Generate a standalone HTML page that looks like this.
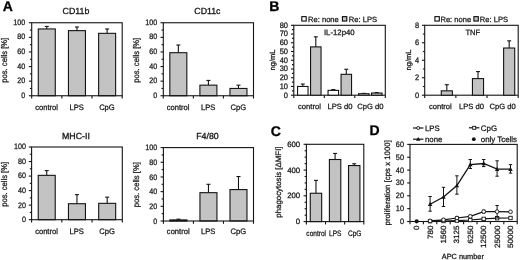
<!DOCTYPE html>
<html><head><meta charset="utf-8"><title>Figure</title>
<style>
html,body{margin:0;padding:0;background:#fff;}
body{width:520px;height:260px;overflow:hidden;}
svg{display:block;text-rendering:geometricPrecision;filter:blur(0.35px);font-family:'Liberation Sans', 'DejaVu Sans', sans-serif;}
</style></head><body>
<svg width="520" height="260" viewBox="0 0 520 260">
<rect x="0" y="0" width="520" height="260" fill="#fff"/>
<text transform="translate(2.80 11.20)" font-size="14" text-anchor="start" font-weight="bold" fill="#000" stroke="#000" stroke-width="0.3">A</text>
<line x1="46.78" y1="28.95" x2="46.78" y2="26.40" stroke="#141414" stroke-width="1.1"/>
<line x1="44.78" y1="26.40" x2="48.78" y2="26.40" stroke="#141414" stroke-width="1.1"/>
<rect x="38.28" y="28.95" width="17.00" height="66.80" fill="#c3c3c3" stroke="#141414" stroke-width="1.1"/>
<line x1="76.95" y1="30.63" x2="76.95" y2="26.98" stroke="#141414" stroke-width="1.1"/>
<line x1="74.95" y1="26.98" x2="78.95" y2="26.98" stroke="#141414" stroke-width="1.1"/>
<rect x="68.45" y="30.63" width="17.00" height="65.12" fill="#c3c3c3" stroke="#141414" stroke-width="1.1"/>
<line x1="107.12" y1="33.34" x2="107.12" y2="28.95" stroke="#141414" stroke-width="1.1"/>
<line x1="105.12" y1="28.95" x2="109.12" y2="28.95" stroke="#141414" stroke-width="1.1"/>
<rect x="98.62" y="33.34" width="17.00" height="62.41" fill="#c3c3c3" stroke="#141414" stroke-width="1.1"/>
<rect x="31.70" y="22.75" width="90.50" height="73.00" fill="none" stroke="#141414" stroke-width="1.1"/>
<line x1="28.90" y1="95.75" x2="31.70" y2="95.75" stroke="#141414" stroke-width="1.1"/>
<text transform="translate(25.30 97.85) scale(0.91 1)" font-size="7.9" text-anchor="end" font-weight="normal" fill="#141414" stroke="#141414" stroke-width="0.25">0</text>
<line x1="28.90" y1="81.15" x2="31.70" y2="81.15" stroke="#141414" stroke-width="1.1"/>
<text transform="translate(25.30 83.25) scale(0.91 1)" font-size="7.9" text-anchor="end" font-weight="normal" fill="#141414" stroke="#141414" stroke-width="0.25">20</text>
<line x1="28.90" y1="66.55" x2="31.70" y2="66.55" stroke="#141414" stroke-width="1.1"/>
<text transform="translate(25.30 68.65) scale(0.91 1)" font-size="7.9" text-anchor="end" font-weight="normal" fill="#141414" stroke="#141414" stroke-width="0.25">40</text>
<line x1="28.90" y1="51.95" x2="31.70" y2="51.95" stroke="#141414" stroke-width="1.1"/>
<text transform="translate(25.30 54.05) scale(0.91 1)" font-size="7.9" text-anchor="end" font-weight="normal" fill="#141414" stroke="#141414" stroke-width="0.25">60</text>
<line x1="28.90" y1="37.35" x2="31.70" y2="37.35" stroke="#141414" stroke-width="1.1"/>
<text transform="translate(25.30 39.45) scale(0.91 1)" font-size="7.9" text-anchor="end" font-weight="normal" fill="#141414" stroke="#141414" stroke-width="0.25">80</text>
<line x1="28.90" y1="22.75" x2="31.70" y2="22.75" stroke="#141414" stroke-width="1.1"/>
<text transform="translate(25.30 24.85) scale(0.91 1)" font-size="7.9" text-anchor="end" font-weight="normal" fill="#141414" stroke="#141414" stroke-width="0.25">100</text>
<line x1="29.90" y1="88.45" x2="31.70" y2="88.45" stroke="#141414" stroke-width="1.1"/>
<line x1="29.90" y1="73.85" x2="31.70" y2="73.85" stroke="#141414" stroke-width="1.1"/>
<line x1="29.90" y1="59.25" x2="31.70" y2="59.25" stroke="#141414" stroke-width="1.1"/>
<line x1="29.90" y1="44.65" x2="31.70" y2="44.65" stroke="#141414" stroke-width="1.1"/>
<line x1="29.90" y1="30.05" x2="31.70" y2="30.05" stroke="#141414" stroke-width="1.1"/>
<line x1="31.70" y1="95.75" x2="31.70" y2="98.55" stroke="#141414" stroke-width="1.1"/>
<line x1="61.87" y1="95.75" x2="61.87" y2="98.55" stroke="#141414" stroke-width="1.1"/>
<line x1="92.03" y1="95.75" x2="92.03" y2="98.55" stroke="#141414" stroke-width="1.1"/>
<line x1="122.20" y1="95.75" x2="122.20" y2="98.55" stroke="#141414" stroke-width="1.1"/>
<text transform="translate(75.95 14.20)" font-size="8.8" text-anchor="middle" font-weight="normal" fill="#141414" stroke="#141414" stroke-width="0.3">CD11b</text>
<text transform="translate(46.58 110.00) scale(0.96 1)" font-size="7.9" text-anchor="middle" font-weight="normal" fill="#141414" stroke="#141414" stroke-width="0.25">control</text>
<text transform="translate(76.75 110.00) scale(0.96 1)" font-size="7.9" text-anchor="middle" font-weight="normal" fill="#141414" stroke="#141414" stroke-width="0.25">LPS</text>
<text transform="translate(106.92 110.00) scale(0.96 1)" font-size="7.9" text-anchor="middle" font-weight="normal" fill="#141414" stroke="#141414" stroke-width="0.25">CpG</text>
<text transform="translate(7.40 60.25) rotate(-90) scale(0.92 1)" font-size="8.3" text-anchor="middle" font-weight="normal" fill="#141414" stroke="#141414" stroke-width="0.25">pos. cells [%]</text>
<line x1="178.33" y1="52.68" x2="178.33" y2="45.02" stroke="#141414" stroke-width="1.1"/>
<line x1="176.33" y1="45.02" x2="180.33" y2="45.02" stroke="#141414" stroke-width="1.1"/>
<rect x="169.83" y="52.68" width="17.00" height="43.07" fill="#c3c3c3" stroke="#141414" stroke-width="1.1"/>
<line x1="208.40" y1="85.16" x2="208.40" y2="80.42" stroke="#141414" stroke-width="1.1"/>
<line x1="206.40" y1="80.42" x2="210.40" y2="80.42" stroke="#141414" stroke-width="1.1"/>
<rect x="199.90" y="85.16" width="17.00" height="10.59" fill="#c3c3c3" stroke="#141414" stroke-width="1.1"/>
<line x1="238.47" y1="88.45" x2="238.47" y2="85.16" stroke="#141414" stroke-width="1.1"/>
<line x1="236.47" y1="85.16" x2="240.47" y2="85.16" stroke="#141414" stroke-width="1.1"/>
<rect x="229.97" y="88.45" width="17.00" height="7.30" fill="#c3c3c3" stroke="#141414" stroke-width="1.1"/>
<rect x="163.30" y="22.75" width="90.20" height="73.00" fill="none" stroke="#141414" stroke-width="1.1"/>
<line x1="160.50" y1="95.75" x2="163.30" y2="95.75" stroke="#141414" stroke-width="1.1"/>
<text transform="translate(157.20 97.85) scale(0.91 1)" font-size="7.9" text-anchor="end" font-weight="normal" fill="#141414" stroke="#141414" stroke-width="0.25">0</text>
<line x1="160.50" y1="81.15" x2="163.30" y2="81.15" stroke="#141414" stroke-width="1.1"/>
<text transform="translate(157.20 83.25) scale(0.91 1)" font-size="7.9" text-anchor="end" font-weight="normal" fill="#141414" stroke="#141414" stroke-width="0.25">20</text>
<line x1="160.50" y1="66.55" x2="163.30" y2="66.55" stroke="#141414" stroke-width="1.1"/>
<text transform="translate(157.20 68.65) scale(0.91 1)" font-size="7.9" text-anchor="end" font-weight="normal" fill="#141414" stroke="#141414" stroke-width="0.25">40</text>
<line x1="160.50" y1="51.95" x2="163.30" y2="51.95" stroke="#141414" stroke-width="1.1"/>
<text transform="translate(157.20 54.05) scale(0.91 1)" font-size="7.9" text-anchor="end" font-weight="normal" fill="#141414" stroke="#141414" stroke-width="0.25">60</text>
<line x1="160.50" y1="37.35" x2="163.30" y2="37.35" stroke="#141414" stroke-width="1.1"/>
<text transform="translate(157.20 39.45) scale(0.91 1)" font-size="7.9" text-anchor="end" font-weight="normal" fill="#141414" stroke="#141414" stroke-width="0.25">80</text>
<line x1="160.50" y1="22.75" x2="163.30" y2="22.75" stroke="#141414" stroke-width="1.1"/>
<text transform="translate(157.20 24.85) scale(0.91 1)" font-size="7.9" text-anchor="end" font-weight="normal" fill="#141414" stroke="#141414" stroke-width="0.25">100</text>
<line x1="161.50" y1="88.45" x2="163.30" y2="88.45" stroke="#141414" stroke-width="1.1"/>
<line x1="161.50" y1="73.85" x2="163.30" y2="73.85" stroke="#141414" stroke-width="1.1"/>
<line x1="161.50" y1="59.25" x2="163.30" y2="59.25" stroke="#141414" stroke-width="1.1"/>
<line x1="161.50" y1="44.65" x2="163.30" y2="44.65" stroke="#141414" stroke-width="1.1"/>
<line x1="161.50" y1="30.05" x2="163.30" y2="30.05" stroke="#141414" stroke-width="1.1"/>
<line x1="163.30" y1="95.75" x2="163.30" y2="98.55" stroke="#141414" stroke-width="1.1"/>
<line x1="193.37" y1="95.75" x2="193.37" y2="98.55" stroke="#141414" stroke-width="1.1"/>
<line x1="223.43" y1="95.75" x2="223.43" y2="98.55" stroke="#141414" stroke-width="1.1"/>
<line x1="253.50" y1="95.75" x2="253.50" y2="98.55" stroke="#141414" stroke-width="1.1"/>
<text transform="translate(207.40 14.20)" font-size="8.8" text-anchor="middle" font-weight="normal" fill="#141414" stroke="#141414" stroke-width="0.3">CD11c</text>
<text transform="translate(178.13 110.00) scale(0.96 1)" font-size="7.9" text-anchor="middle" font-weight="normal" fill="#141414" stroke="#141414" stroke-width="0.25">control</text>
<text transform="translate(208.20 110.00) scale(0.96 1)" font-size="7.9" text-anchor="middle" font-weight="normal" fill="#141414" stroke="#141414" stroke-width="0.25">LPS</text>
<text transform="translate(238.27 110.00) scale(0.96 1)" font-size="7.9" text-anchor="middle" font-weight="normal" fill="#141414" stroke="#141414" stroke-width="0.25">CpG</text>
<text transform="translate(138.90 60.25) rotate(-90) scale(0.92 1)" font-size="8.3" text-anchor="middle" font-weight="normal" fill="#141414" stroke="#141414" stroke-width="0.25">pos. cells [%]</text>
<line x1="46.72" y1="175.35" x2="46.72" y2="170.63" stroke="#141414" stroke-width="1.1"/>
<line x1="44.72" y1="170.63" x2="48.72" y2="170.63" stroke="#141414" stroke-width="1.1"/>
<rect x="38.22" y="175.35" width="17.00" height="44.35" fill="#c3c3c3" stroke="#141414" stroke-width="1.1"/>
<line x1="76.95" y1="203.71" x2="76.95" y2="194.62" stroke="#141414" stroke-width="1.1"/>
<line x1="74.95" y1="194.62" x2="78.95" y2="194.62" stroke="#141414" stroke-width="1.1"/>
<rect x="68.45" y="203.71" width="17.00" height="15.99" fill="#c3c3c3" stroke="#141414" stroke-width="1.1"/>
<line x1="107.18" y1="203.34" x2="107.18" y2="197.16" stroke="#141414" stroke-width="1.1"/>
<line x1="105.18" y1="197.16" x2="109.18" y2="197.16" stroke="#141414" stroke-width="1.1"/>
<rect x="98.68" y="203.34" width="17.00" height="16.36" fill="#c3c3c3" stroke="#141414" stroke-width="1.1"/>
<rect x="31.60" y="147.00" width="90.70" height="72.70" fill="none" stroke="#141414" stroke-width="1.1"/>
<line x1="28.80" y1="219.70" x2="31.60" y2="219.70" stroke="#141414" stroke-width="1.1"/>
<text transform="translate(25.90 222.10) scale(0.91 1)" font-size="7.9" text-anchor="end" font-weight="normal" fill="#141414" stroke="#141414" stroke-width="0.25">0</text>
<line x1="28.80" y1="205.16" x2="31.60" y2="205.16" stroke="#141414" stroke-width="1.1"/>
<text transform="translate(25.90 207.56) scale(0.91 1)" font-size="7.9" text-anchor="end" font-weight="normal" fill="#141414" stroke="#141414" stroke-width="0.25">20</text>
<line x1="28.80" y1="190.62" x2="31.60" y2="190.62" stroke="#141414" stroke-width="1.1"/>
<text transform="translate(25.90 193.02) scale(0.91 1)" font-size="7.9" text-anchor="end" font-weight="normal" fill="#141414" stroke="#141414" stroke-width="0.25">40</text>
<line x1="28.80" y1="176.08" x2="31.60" y2="176.08" stroke="#141414" stroke-width="1.1"/>
<text transform="translate(25.90 178.48) scale(0.91 1)" font-size="7.9" text-anchor="end" font-weight="normal" fill="#141414" stroke="#141414" stroke-width="0.25">60</text>
<line x1="28.80" y1="161.54" x2="31.60" y2="161.54" stroke="#141414" stroke-width="1.1"/>
<text transform="translate(25.90 163.94) scale(0.91 1)" font-size="7.9" text-anchor="end" font-weight="normal" fill="#141414" stroke="#141414" stroke-width="0.25">80</text>
<line x1="28.80" y1="147.00" x2="31.60" y2="147.00" stroke="#141414" stroke-width="1.1"/>
<text transform="translate(25.90 149.40) scale(0.91 1)" font-size="7.9" text-anchor="end" font-weight="normal" fill="#141414" stroke="#141414" stroke-width="0.25">100</text>
<line x1="29.80" y1="212.43" x2="31.60" y2="212.43" stroke="#141414" stroke-width="1.1"/>
<line x1="29.80" y1="197.89" x2="31.60" y2="197.89" stroke="#141414" stroke-width="1.1"/>
<line x1="29.80" y1="183.35" x2="31.60" y2="183.35" stroke="#141414" stroke-width="1.1"/>
<line x1="29.80" y1="168.81" x2="31.60" y2="168.81" stroke="#141414" stroke-width="1.1"/>
<line x1="29.80" y1="154.27" x2="31.60" y2="154.27" stroke="#141414" stroke-width="1.1"/>
<line x1="31.60" y1="219.70" x2="31.60" y2="222.50" stroke="#141414" stroke-width="1.1"/>
<line x1="61.83" y1="219.70" x2="61.83" y2="222.50" stroke="#141414" stroke-width="1.1"/>
<line x1="92.07" y1="219.70" x2="92.07" y2="222.50" stroke="#141414" stroke-width="1.1"/>
<line x1="122.30" y1="219.70" x2="122.30" y2="222.50" stroke="#141414" stroke-width="1.1"/>
<text transform="translate(75.95 138.90)" font-size="8.8" text-anchor="middle" font-weight="normal" fill="#141414" stroke="#141414" stroke-width="0.3">MHC-II</text>
<text transform="translate(46.52 233.60) scale(0.96 1)" font-size="7.9" text-anchor="middle" font-weight="normal" fill="#141414" stroke="#141414" stroke-width="0.25">control</text>
<text transform="translate(76.75 233.60) scale(0.96 1)" font-size="7.9" text-anchor="middle" font-weight="normal" fill="#141414" stroke="#141414" stroke-width="0.25">LPS</text>
<text transform="translate(106.98 233.60) scale(0.96 1)" font-size="7.9" text-anchor="middle" font-weight="normal" fill="#141414" stroke="#141414" stroke-width="0.25">CpG</text>
<text transform="translate(7.30 184.35) rotate(-90) scale(0.92 1)" font-size="8.3" text-anchor="middle" font-weight="normal" fill="#141414" stroke="#141414" stroke-width="0.25">pos. cells [%]</text>
<line x1="178.42" y1="219.90" x2="178.42" y2="219.16" stroke="#141414" stroke-width="1.1"/>
<line x1="176.42" y1="219.16" x2="180.42" y2="219.16" stroke="#141414" stroke-width="1.1"/>
<rect x="169.92" y="219.90" width="17.00" height="1.10" fill="#c3c3c3" stroke="#141414" stroke-width="1.1"/>
<line x1="208.45" y1="192.67" x2="208.45" y2="184.30" stroke="#141414" stroke-width="1.1"/>
<line x1="206.45" y1="184.30" x2="210.45" y2="184.30" stroke="#141414" stroke-width="1.1"/>
<rect x="199.95" y="192.67" width="17.00" height="28.33" fill="#c3c3c3" stroke="#141414" stroke-width="1.1"/>
<line x1="238.48" y1="189.58" x2="238.48" y2="176.52" stroke="#141414" stroke-width="1.1"/>
<line x1="236.48" y1="176.52" x2="240.48" y2="176.52" stroke="#141414" stroke-width="1.1"/>
<rect x="229.98" y="189.58" width="17.00" height="31.42" fill="#c3c3c3" stroke="#141414" stroke-width="1.1"/>
<rect x="163.40" y="147.60" width="90.10" height="73.40" fill="none" stroke="#141414" stroke-width="1.1"/>
<line x1="160.60" y1="221.00" x2="163.40" y2="221.00" stroke="#141414" stroke-width="1.1"/>
<text transform="translate(157.20 223.60) scale(0.91 1)" font-size="7.9" text-anchor="end" font-weight="normal" fill="#141414" stroke="#141414" stroke-width="0.25">0</text>
<line x1="160.60" y1="206.32" x2="163.40" y2="206.32" stroke="#141414" stroke-width="1.1"/>
<text transform="translate(157.20 208.92) scale(0.91 1)" font-size="7.9" text-anchor="end" font-weight="normal" fill="#141414" stroke="#141414" stroke-width="0.25">20</text>
<line x1="160.60" y1="191.64" x2="163.40" y2="191.64" stroke="#141414" stroke-width="1.1"/>
<text transform="translate(157.20 194.24) scale(0.91 1)" font-size="7.9" text-anchor="end" font-weight="normal" fill="#141414" stroke="#141414" stroke-width="0.25">40</text>
<line x1="160.60" y1="176.96" x2="163.40" y2="176.96" stroke="#141414" stroke-width="1.1"/>
<text transform="translate(157.20 179.56) scale(0.91 1)" font-size="7.9" text-anchor="end" font-weight="normal" fill="#141414" stroke="#141414" stroke-width="0.25">60</text>
<line x1="160.60" y1="162.28" x2="163.40" y2="162.28" stroke="#141414" stroke-width="1.1"/>
<text transform="translate(157.20 164.88) scale(0.91 1)" font-size="7.9" text-anchor="end" font-weight="normal" fill="#141414" stroke="#141414" stroke-width="0.25">80</text>
<line x1="160.60" y1="147.60" x2="163.40" y2="147.60" stroke="#141414" stroke-width="1.1"/>
<text transform="translate(157.20 150.20) scale(0.91 1)" font-size="7.9" text-anchor="end" font-weight="normal" fill="#141414" stroke="#141414" stroke-width="0.25">100</text>
<line x1="161.60" y1="213.66" x2="163.40" y2="213.66" stroke="#141414" stroke-width="1.1"/>
<line x1="161.60" y1="198.98" x2="163.40" y2="198.98" stroke="#141414" stroke-width="1.1"/>
<line x1="161.60" y1="184.30" x2="163.40" y2="184.30" stroke="#141414" stroke-width="1.1"/>
<line x1="161.60" y1="169.62" x2="163.40" y2="169.62" stroke="#141414" stroke-width="1.1"/>
<line x1="161.60" y1="154.94" x2="163.40" y2="154.94" stroke="#141414" stroke-width="1.1"/>
<line x1="163.40" y1="221.00" x2="163.40" y2="223.80" stroke="#141414" stroke-width="1.1"/>
<line x1="193.43" y1="221.00" x2="193.43" y2="223.80" stroke="#141414" stroke-width="1.1"/>
<line x1="223.47" y1="221.00" x2="223.47" y2="223.80" stroke="#141414" stroke-width="1.1"/>
<line x1="253.50" y1="221.00" x2="253.50" y2="223.80" stroke="#141414" stroke-width="1.1"/>
<text transform="translate(207.45 138.90)" font-size="8.8" text-anchor="middle" font-weight="normal" fill="#141414" stroke="#141414" stroke-width="0.3">F4/80</text>
<text transform="translate(178.22 234.10) scale(0.96 1)" font-size="7.9" text-anchor="middle" font-weight="normal" fill="#141414" stroke="#141414" stroke-width="0.25">control</text>
<text transform="translate(208.25 234.10) scale(0.96 1)" font-size="7.9" text-anchor="middle" font-weight="normal" fill="#141414" stroke="#141414" stroke-width="0.25">LPS</text>
<text transform="translate(238.28 234.10) scale(0.96 1)" font-size="7.9" text-anchor="middle" font-weight="normal" fill="#141414" stroke="#141414" stroke-width="0.25">CpG</text>
<text transform="translate(139.00 184.70) rotate(-90) scale(0.92 1)" font-size="8.3" text-anchor="middle" font-weight="normal" fill="#141414" stroke="#141414" stroke-width="0.25">pos. cells [%]</text>
<text transform="translate(269.30 10.80)" font-size="14" text-anchor="start" font-weight="bold" fill="#000" stroke="#000" stroke-width="0.3">B</text>
<rect x="293.80" y="25.30" width="91.50" height="69.90" fill="none" stroke="#141414" stroke-width="1.1"/>
<line x1="291.00" y1="95.20" x2="293.80" y2="95.20" stroke="#141414" stroke-width="1.1"/>
<text transform="translate(288.00 97.60) scale(0.95 1)" font-size="7.9" text-anchor="end" font-weight="normal" fill="#141414" stroke="#141414" stroke-width="0.25">0</text>
<line x1="291.00" y1="86.46" x2="293.80" y2="86.46" stroke="#141414" stroke-width="1.1"/>
<text transform="translate(288.00 88.86) scale(0.95 1)" font-size="7.9" text-anchor="end" font-weight="normal" fill="#141414" stroke="#141414" stroke-width="0.25">10</text>
<line x1="291.00" y1="77.72" x2="293.80" y2="77.72" stroke="#141414" stroke-width="1.1"/>
<text transform="translate(288.00 80.12) scale(0.95 1)" font-size="7.9" text-anchor="end" font-weight="normal" fill="#141414" stroke="#141414" stroke-width="0.25">20</text>
<line x1="291.00" y1="68.99" x2="293.80" y2="68.99" stroke="#141414" stroke-width="1.1"/>
<text transform="translate(288.00 71.39) scale(0.95 1)" font-size="7.9" text-anchor="end" font-weight="normal" fill="#141414" stroke="#141414" stroke-width="0.25">30</text>
<line x1="291.00" y1="60.25" x2="293.80" y2="60.25" stroke="#141414" stroke-width="1.1"/>
<text transform="translate(288.00 62.65) scale(0.95 1)" font-size="7.9" text-anchor="end" font-weight="normal" fill="#141414" stroke="#141414" stroke-width="0.25">40</text>
<line x1="291.00" y1="51.51" x2="293.80" y2="51.51" stroke="#141414" stroke-width="1.1"/>
<text transform="translate(288.00 53.91) scale(0.95 1)" font-size="7.9" text-anchor="end" font-weight="normal" fill="#141414" stroke="#141414" stroke-width="0.25">50</text>
<line x1="291.00" y1="42.77" x2="293.80" y2="42.77" stroke="#141414" stroke-width="1.1"/>
<text transform="translate(288.00 45.17) scale(0.95 1)" font-size="7.9" text-anchor="end" font-weight="normal" fill="#141414" stroke="#141414" stroke-width="0.25">60</text>
<line x1="291.00" y1="34.04" x2="293.80" y2="34.04" stroke="#141414" stroke-width="1.1"/>
<text transform="translate(288.00 36.44) scale(0.95 1)" font-size="7.9" text-anchor="end" font-weight="normal" fill="#141414" stroke="#141414" stroke-width="0.25">70</text>
<line x1="291.00" y1="25.30" x2="293.80" y2="25.30" stroke="#141414" stroke-width="1.1"/>
<text transform="translate(288.00 27.70) scale(0.95 1)" font-size="7.9" text-anchor="end" font-weight="normal" fill="#141414" stroke="#141414" stroke-width="0.25">80</text>
<line x1="292.00" y1="90.83" x2="293.80" y2="90.83" stroke="#141414" stroke-width="1.1"/>
<line x1="292.00" y1="82.09" x2="293.80" y2="82.09" stroke="#141414" stroke-width="1.1"/>
<line x1="292.00" y1="73.36" x2="293.80" y2="73.36" stroke="#141414" stroke-width="1.1"/>
<line x1="292.00" y1="64.62" x2="293.80" y2="64.62" stroke="#141414" stroke-width="1.1"/>
<line x1="292.00" y1="55.88" x2="293.80" y2="55.88" stroke="#141414" stroke-width="1.1"/>
<line x1="292.00" y1="47.14" x2="293.80" y2="47.14" stroke="#141414" stroke-width="1.1"/>
<line x1="292.00" y1="38.41" x2="293.80" y2="38.41" stroke="#141414" stroke-width="1.1"/>
<line x1="292.00" y1="29.67" x2="293.80" y2="29.67" stroke="#141414" stroke-width="1.1"/>
<line x1="293.80" y1="95.20" x2="293.80" y2="98.00" stroke="#141414" stroke-width="1.1"/>
<line x1="324.30" y1="95.20" x2="324.30" y2="98.00" stroke="#141414" stroke-width="1.1"/>
<line x1="354.80" y1="95.20" x2="354.80" y2="98.00" stroke="#141414" stroke-width="1.1"/>
<line x1="385.30" y1="95.20" x2="385.30" y2="98.00" stroke="#141414" stroke-width="1.1"/>
<line x1="302.80" y1="86.46" x2="302.80" y2="84.02" stroke="#141414" stroke-width="1.1"/>
<line x1="300.80" y1="84.02" x2="304.80" y2="84.02" stroke="#141414" stroke-width="1.1"/>
<rect x="297.55" y="86.46" width="10.50" height="8.74" fill="#fff" stroke="#141414" stroke-width="1.1"/>
<line x1="315.80" y1="46.88" x2="315.80" y2="36.83" stroke="#141414" stroke-width="1.1"/>
<line x1="313.80" y1="36.83" x2="317.80" y2="36.83" stroke="#141414" stroke-width="1.1"/>
<rect x="310.55" y="46.88" width="10.50" height="48.32" fill="#c3c3c3" stroke="#141414" stroke-width="1.1"/>
<text transform="translate(309.45 108.80)" font-size="7.6" text-anchor="middle" font-weight="normal" fill="#141414" stroke="#141414" stroke-width="0.25">control</text>
<line x1="333.30" y1="90.39" x2="333.30" y2="89.52" stroke="#141414" stroke-width="1.1"/>
<line x1="331.30" y1="89.52" x2="335.30" y2="89.52" stroke="#141414" stroke-width="1.1"/>
<rect x="328.05" y="90.39" width="10.50" height="4.81" fill="#fff" stroke="#141414" stroke-width="1.1"/>
<line x1="346.30" y1="74.32" x2="346.30" y2="69.25" stroke="#141414" stroke-width="1.1"/>
<line x1="344.30" y1="69.25" x2="348.30" y2="69.25" stroke="#141414" stroke-width="1.1"/>
<rect x="341.05" y="74.32" width="10.50" height="20.88" fill="#c3c3c3" stroke="#141414" stroke-width="1.1"/>
<text transform="translate(339.95 108.80)" font-size="7.6" text-anchor="middle" font-weight="normal" fill="#141414" stroke="#141414" stroke-width="0.25">LPS d0</text>
<line x1="363.80" y1="93.71" x2="363.80" y2="93.37" stroke="#141414" stroke-width="1.1"/>
<line x1="361.80" y1="93.37" x2="365.80" y2="93.37" stroke="#141414" stroke-width="1.1"/>
<rect x="358.55" y="93.71" width="10.50" height="1.49" fill="#fff" stroke="#141414" stroke-width="1.1"/>
<line x1="376.80" y1="93.02" x2="376.80" y2="92.58" stroke="#141414" stroke-width="1.1"/>
<line x1="374.80" y1="92.58" x2="378.80" y2="92.58" stroke="#141414" stroke-width="1.1"/>
<rect x="371.55" y="93.02" width="10.50" height="2.18" fill="#c3c3c3" stroke="#141414" stroke-width="1.1"/>
<text transform="translate(370.45 108.80)" font-size="7.6" text-anchor="middle" font-weight="normal" fill="#141414" stroke="#141414" stroke-width="0.25">CpG d0</text>
<text transform="translate(339.30 34.70)" font-size="7.8" text-anchor="middle" font-weight="normal" fill="#141414" stroke="#141414" stroke-width="0.25">IL-12p40</text>
<text transform="translate(274.60 60.00) rotate(-90)" font-size="7.5" text-anchor="middle" font-weight="normal" fill="#141414" stroke="#141414" stroke-width="0.25">ng/mL</text>
<rect x="301.80" y="16.65" width="4.40" height="4.40" fill="#fff" stroke="#000" stroke-width="1.05"/>
<text transform="translate(308.00 21.55)" font-size="7.6" text-anchor="start" font-weight="normal" fill="#141414" stroke="#141414" stroke-width="0.25">Re: none</text>
<rect x="342.40" y="16.65" width="4.40" height="4.40" fill="#c3c3c3" stroke="#000" stroke-width="1.05"/>
<text transform="translate(348.80 21.55)" font-size="7.6" text-anchor="start" font-weight="normal" fill="#141414" stroke="#141414" stroke-width="0.25">Re: LPS</text>
<rect x="424.70" y="25.30" width="93.50" height="69.90" fill="none" stroke="#141414" stroke-width="1.1"/>
<line x1="421.90" y1="95.20" x2="424.70" y2="95.20" stroke="#141414" stroke-width="1.1"/>
<text transform="translate(419.10 97.60) scale(0.95 1)" font-size="7.9" text-anchor="end" font-weight="normal" fill="#141414" stroke="#141414" stroke-width="0.25">0</text>
<line x1="421.90" y1="77.72" x2="424.70" y2="77.72" stroke="#141414" stroke-width="1.1"/>
<text transform="translate(419.10 80.12) scale(0.95 1)" font-size="7.9" text-anchor="end" font-weight="normal" fill="#141414" stroke="#141414" stroke-width="0.25">2</text>
<line x1="421.90" y1="60.25" x2="424.70" y2="60.25" stroke="#141414" stroke-width="1.1"/>
<text transform="translate(419.10 62.65) scale(0.95 1)" font-size="7.9" text-anchor="end" font-weight="normal" fill="#141414" stroke="#141414" stroke-width="0.25">4</text>
<line x1="421.90" y1="42.77" x2="424.70" y2="42.77" stroke="#141414" stroke-width="1.1"/>
<text transform="translate(419.10 45.17) scale(0.95 1)" font-size="7.9" text-anchor="end" font-weight="normal" fill="#141414" stroke="#141414" stroke-width="0.25">6</text>
<line x1="421.90" y1="25.30" x2="424.70" y2="25.30" stroke="#141414" stroke-width="1.1"/>
<text transform="translate(419.10 27.70) scale(0.95 1)" font-size="7.9" text-anchor="end" font-weight="normal" fill="#141414" stroke="#141414" stroke-width="0.25">8</text>
<line x1="422.90" y1="86.46" x2="424.70" y2="86.46" stroke="#141414" stroke-width="1.1"/>
<line x1="422.90" y1="68.99" x2="424.70" y2="68.99" stroke="#141414" stroke-width="1.1"/>
<line x1="422.90" y1="51.51" x2="424.70" y2="51.51" stroke="#141414" stroke-width="1.1"/>
<line x1="422.90" y1="34.04" x2="424.70" y2="34.04" stroke="#141414" stroke-width="1.1"/>
<line x1="424.70" y1="95.20" x2="424.70" y2="98.00" stroke="#141414" stroke-width="1.1"/>
<line x1="455.87" y1="95.20" x2="455.87" y2="98.00" stroke="#141414" stroke-width="1.1"/>
<line x1="487.03" y1="95.20" x2="487.03" y2="98.00" stroke="#141414" stroke-width="1.1"/>
<line x1="518.20" y1="95.20" x2="518.20" y2="98.00" stroke="#141414" stroke-width="1.1"/>
<line x1="446.83" y1="90.83" x2="446.83" y2="84.72" stroke="#141414" stroke-width="1.1"/>
<line x1="444.83" y1="84.72" x2="448.83" y2="84.72" stroke="#141414" stroke-width="1.1"/>
<rect x="441.28" y="90.83" width="11.10" height="4.37" fill="#c3c3c3" stroke="#141414" stroke-width="1.1"/>
<text transform="translate(440.28 109.00)" font-size="7.6" text-anchor="middle" font-weight="normal" fill="#141414" stroke="#141414" stroke-width="0.25">control</text>
<line x1="478.00" y1="78.60" x2="478.00" y2="71.61" stroke="#141414" stroke-width="1.1"/>
<line x1="476.00" y1="71.61" x2="480.00" y2="71.61" stroke="#141414" stroke-width="1.1"/>
<rect x="472.45" y="78.60" width="11.10" height="16.60" fill="#c3c3c3" stroke="#141414" stroke-width="1.1"/>
<text transform="translate(471.45 109.00)" font-size="7.6" text-anchor="middle" font-weight="normal" fill="#141414" stroke="#141414" stroke-width="0.25">LPS d0</text>
<line x1="509.17" y1="48.02" x2="509.17" y2="40.85" stroke="#141414" stroke-width="1.1"/>
<line x1="507.17" y1="40.85" x2="511.17" y2="40.85" stroke="#141414" stroke-width="1.1"/>
<rect x="503.62" y="48.02" width="11.10" height="47.18" fill="#c3c3c3" stroke="#141414" stroke-width="1.1"/>
<text transform="translate(502.62 109.00)" font-size="7.6" text-anchor="middle" font-weight="normal" fill="#141414" stroke="#141414" stroke-width="0.25">CpG d0</text>
<text transform="translate(472.80 35.00)" font-size="7.6" text-anchor="middle" font-weight="normal" fill="#141414" stroke="#141414" stroke-width="0.25">TNF</text>
<text transform="translate(410.50 60.00) rotate(-90)" font-size="7.5" text-anchor="middle" font-weight="normal" fill="#141414" stroke="#141414" stroke-width="0.25">ng/mL</text>
<rect x="434.90" y="16.65" width="4.40" height="4.40" fill="#fff" stroke="#000" stroke-width="1.05"/>
<text transform="translate(440.40 21.55)" font-size="7.6" text-anchor="start" font-weight="normal" fill="#141414" stroke="#141414" stroke-width="0.25">Re: none</text>
<rect x="473.90" y="16.65" width="4.40" height="4.40" fill="#c3c3c3" stroke="#000" stroke-width="1.05"/>
<text transform="translate(479.80 21.55)" font-size="7.6" text-anchor="start" font-weight="normal" fill="#141414" stroke="#141414" stroke-width="0.25">Re: LPS</text>
<text transform="translate(270.80 135.60)" font-size="14" text-anchor="start" font-weight="bold" fill="#000" stroke="#000" stroke-width="0.3">C</text>
<rect x="306.40" y="144.30" width="57.40" height="77.30" fill="none" stroke="#141414" stroke-width="1.1"/>
<line x1="303.60" y1="221.60" x2="306.40" y2="221.60" stroke="#141414" stroke-width="1.1"/>
<text transform="translate(300.20 224.20)" font-size="7.8" text-anchor="end" font-weight="normal" fill="#141414" stroke="#141414" stroke-width="0.25">0</text>
<line x1="303.60" y1="195.83" x2="306.40" y2="195.83" stroke="#141414" stroke-width="1.1"/>
<text transform="translate(300.20 198.43)" font-size="7.8" text-anchor="end" font-weight="normal" fill="#141414" stroke="#141414" stroke-width="0.25">200</text>
<line x1="303.60" y1="170.07" x2="306.40" y2="170.07" stroke="#141414" stroke-width="1.1"/>
<text transform="translate(300.20 172.67)" font-size="7.8" text-anchor="end" font-weight="normal" fill="#141414" stroke="#141414" stroke-width="0.25">400</text>
<line x1="303.60" y1="144.30" x2="306.40" y2="144.30" stroke="#141414" stroke-width="1.1"/>
<text transform="translate(300.20 146.90)" font-size="7.8" text-anchor="end" font-weight="normal" fill="#141414" stroke="#141414" stroke-width="0.25">600</text>
<line x1="304.60" y1="215.16" x2="306.40" y2="215.16" stroke="#141414" stroke-width="1.1"/>
<line x1="304.60" y1="208.72" x2="306.40" y2="208.72" stroke="#141414" stroke-width="1.1"/>
<line x1="304.60" y1="202.28" x2="306.40" y2="202.28" stroke="#141414" stroke-width="1.1"/>
<line x1="304.60" y1="189.39" x2="306.40" y2="189.39" stroke="#141414" stroke-width="1.1"/>
<line x1="304.60" y1="182.95" x2="306.40" y2="182.95" stroke="#141414" stroke-width="1.1"/>
<line x1="304.60" y1="176.51" x2="306.40" y2="176.51" stroke="#141414" stroke-width="1.1"/>
<line x1="304.60" y1="163.62" x2="306.40" y2="163.62" stroke="#141414" stroke-width="1.1"/>
<line x1="304.60" y1="157.18" x2="306.40" y2="157.18" stroke="#141414" stroke-width="1.1"/>
<line x1="304.60" y1="150.74" x2="306.40" y2="150.74" stroke="#141414" stroke-width="1.1"/>
<line x1="306.40" y1="221.60" x2="306.40" y2="224.40" stroke="#141414" stroke-width="1.1"/>
<line x1="325.53" y1="221.60" x2="325.53" y2="224.40" stroke="#141414" stroke-width="1.1"/>
<line x1="344.67" y1="221.60" x2="344.67" y2="224.40" stroke="#141414" stroke-width="1.1"/>
<line x1="363.80" y1="221.60" x2="363.80" y2="224.40" stroke="#141414" stroke-width="1.1"/>
<line x1="315.97" y1="193.26" x2="315.97" y2="180.37" stroke="#141414" stroke-width="1.1"/>
<line x1="313.97" y1="180.37" x2="317.97" y2="180.37" stroke="#141414" stroke-width="1.1"/>
<rect x="310.27" y="193.26" width="11.40" height="28.34" fill="#c3c3c3" stroke="#141414" stroke-width="1.1"/>
<line x1="335.10" y1="159.50" x2="335.10" y2="153.45" stroke="#141414" stroke-width="1.1"/>
<line x1="333.10" y1="153.45" x2="337.10" y2="153.45" stroke="#141414" stroke-width="1.1"/>
<rect x="329.40" y="159.50" width="11.40" height="62.10" fill="#c3c3c3" stroke="#141414" stroke-width="1.1"/>
<line x1="354.23" y1="165.56" x2="354.23" y2="163.75" stroke="#141414" stroke-width="1.1"/>
<line x1="352.23" y1="163.75" x2="356.23" y2="163.75" stroke="#141414" stroke-width="1.1"/>
<rect x="348.53" y="165.56" width="11.40" height="56.04" fill="#c3c3c3" stroke="#141414" stroke-width="1.1"/>
<text transform="translate(316.20 236.00) scale(0.83 1)" font-size="7.9" text-anchor="middle" font-weight="normal" fill="#141414" stroke="#141414" stroke-width="0.25">control</text>
<text transform="translate(335.20 236.00) scale(0.83 1)" font-size="7.9" text-anchor="middle" font-weight="normal" fill="#141414" stroke="#141414" stroke-width="0.25">LPS</text>
<text transform="translate(354.70 236.00) scale(0.83 1)" font-size="7.9" text-anchor="middle" font-weight="normal" fill="#141414" stroke="#141414" stroke-width="0.25">CpG</text>
<text transform="translate(280.70 182.10) rotate(-90)" font-size="7.87" text-anchor="middle" font-weight="normal" fill="#141414" stroke="#141414" stroke-width="0.25">phagocytosis [ΔMFI]</text>
<text transform="translate(369.50 135.20)" font-size="14" text-anchor="start" font-weight="bold" fill="#000" stroke="#000" stroke-width="0.3">D</text>
<rect x="410.00" y="144.40" width="107.20" height="77.10" fill="none" stroke="#141414" stroke-width="1.1"/>
<line x1="407.20" y1="221.50" x2="410.00" y2="221.50" stroke="#141414" stroke-width="1.1"/>
<text transform="translate(404.00 224.00) scale(0.93 1)" font-size="7.9" text-anchor="end" font-weight="normal" fill="#141414" stroke="#141414" stroke-width="0.25">0</text>
<line x1="407.20" y1="208.65" x2="410.00" y2="208.65" stroke="#141414" stroke-width="1.1"/>
<text transform="translate(404.00 211.15) scale(0.93 1)" font-size="7.9" text-anchor="end" font-weight="normal" fill="#141414" stroke="#141414" stroke-width="0.25">10</text>
<line x1="407.20" y1="195.80" x2="410.00" y2="195.80" stroke="#141414" stroke-width="1.1"/>
<text transform="translate(404.00 198.30) scale(0.93 1)" font-size="7.9" text-anchor="end" font-weight="normal" fill="#141414" stroke="#141414" stroke-width="0.25">20</text>
<line x1="407.20" y1="182.95" x2="410.00" y2="182.95" stroke="#141414" stroke-width="1.1"/>
<text transform="translate(404.00 185.45) scale(0.93 1)" font-size="7.9" text-anchor="end" font-weight="normal" fill="#141414" stroke="#141414" stroke-width="0.25">30</text>
<line x1="407.20" y1="170.10" x2="410.00" y2="170.10" stroke="#141414" stroke-width="1.1"/>
<text transform="translate(404.00 172.60) scale(0.93 1)" font-size="7.9" text-anchor="end" font-weight="normal" fill="#141414" stroke="#141414" stroke-width="0.25">40</text>
<line x1="407.20" y1="157.25" x2="410.00" y2="157.25" stroke="#141414" stroke-width="1.1"/>
<text transform="translate(404.00 159.75) scale(0.93 1)" font-size="7.9" text-anchor="end" font-weight="normal" fill="#141414" stroke="#141414" stroke-width="0.25">50</text>
<line x1="407.20" y1="144.40" x2="410.00" y2="144.40" stroke="#141414" stroke-width="1.1"/>
<text transform="translate(404.00 146.90) scale(0.93 1)" font-size="7.9" text-anchor="end" font-weight="normal" fill="#141414" stroke="#141414" stroke-width="0.25">60</text>
<line x1="410.00" y1="221.50" x2="410.00" y2="224.30" stroke="#141414" stroke-width="1.1"/>
<line x1="423.40" y1="221.50" x2="423.40" y2="224.30" stroke="#141414" stroke-width="1.1"/>
<line x1="436.80" y1="221.50" x2="436.80" y2="224.30" stroke="#141414" stroke-width="1.1"/>
<line x1="450.20" y1="221.50" x2="450.20" y2="224.30" stroke="#141414" stroke-width="1.1"/>
<line x1="463.60" y1="221.50" x2="463.60" y2="224.30" stroke="#141414" stroke-width="1.1"/>
<line x1="477.00" y1="221.50" x2="477.00" y2="224.30" stroke="#141414" stroke-width="1.1"/>
<line x1="490.40" y1="221.50" x2="490.40" y2="224.30" stroke="#141414" stroke-width="1.1"/>
<line x1="503.80" y1="221.50" x2="503.80" y2="224.30" stroke="#141414" stroke-width="1.1"/>
<line x1="517.20" y1="221.50" x2="517.20" y2="224.30" stroke="#141414" stroke-width="1.1"/>
<text transform="translate(419.20 225.60) rotate(-90) scale(1.06 1)" font-size="7.6" text-anchor="end" font-weight="normal" fill="#141414" stroke="#141414" stroke-width="0.25">0</text>
<text transform="translate(432.60 225.60) rotate(-90) scale(1.06 1)" font-size="7.6" text-anchor="end" font-weight="normal" fill="#141414" stroke="#141414" stroke-width="0.25">780</text>
<text transform="translate(446.00 225.60) rotate(-90) scale(1.06 1)" font-size="7.6" text-anchor="end" font-weight="normal" fill="#141414" stroke="#141414" stroke-width="0.25">1560</text>
<text transform="translate(459.40 225.60) rotate(-90) scale(1.06 1)" font-size="7.6" text-anchor="end" font-weight="normal" fill="#141414" stroke="#141414" stroke-width="0.25">3125</text>
<text transform="translate(472.80 225.60) rotate(-90) scale(1.06 1)" font-size="7.6" text-anchor="end" font-weight="normal" fill="#141414" stroke="#141414" stroke-width="0.25">6250</text>
<text transform="translate(486.20 225.60) rotate(-90) scale(1.06 1)" font-size="7.6" text-anchor="end" font-weight="normal" fill="#141414" stroke="#141414" stroke-width="0.25">12500</text>
<text transform="translate(499.60 225.60) rotate(-90) scale(1.06 1)" font-size="7.6" text-anchor="end" font-weight="normal" fill="#141414" stroke="#141414" stroke-width="0.25">25000</text>
<text transform="translate(513.00 225.60) rotate(-90) scale(1.06 1)" font-size="7.6" text-anchor="end" font-weight="normal" fill="#141414" stroke="#141414" stroke-width="0.25">50000</text>
<text transform="translate(462.80 258.70) scale(0.98 1)" font-size="7.5" text-anchor="middle" font-weight="normal" fill="#141414" stroke="#141414" stroke-width="0.25">APC number</text>
<text transform="translate(389.80 182.80) rotate(-90)" font-size="7.83" text-anchor="middle" font-weight="normal" fill="#141414" stroke="#141414" stroke-width="0.25">proliferation [cps x 1000]</text>
<line x1="430.10" y1="196.50" x2="430.10" y2="211.20" stroke="#141414" stroke-width="1"/>
<line x1="428.40" y1="196.50" x2="431.80" y2="196.50" stroke="#141414" stroke-width="1"/>
<line x1="428.40" y1="211.20" x2="431.80" y2="211.20" stroke="#141414" stroke-width="1"/>
<line x1="443.50" y1="187.30" x2="443.50" y2="206.50" stroke="#141414" stroke-width="1"/>
<line x1="441.80" y1="187.30" x2="445.20" y2="187.30" stroke="#141414" stroke-width="1"/>
<line x1="441.80" y1="206.50" x2="445.20" y2="206.50" stroke="#141414" stroke-width="1"/>
<line x1="456.90" y1="175.80" x2="456.90" y2="194.20" stroke="#141414" stroke-width="1"/>
<line x1="455.20" y1="175.80" x2="458.60" y2="175.80" stroke="#141414" stroke-width="1"/>
<line x1="455.20" y1="194.20" x2="458.60" y2="194.20" stroke="#141414" stroke-width="1"/>
<line x1="470.30" y1="159.50" x2="470.30" y2="168.50" stroke="#141414" stroke-width="1"/>
<line x1="468.60" y1="159.50" x2="472.00" y2="159.50" stroke="#141414" stroke-width="1"/>
<line x1="468.60" y1="168.50" x2="472.00" y2="168.50" stroke="#141414" stroke-width="1"/>
<line x1="483.70" y1="159.50" x2="483.70" y2="166.60" stroke="#141414" stroke-width="1"/>
<line x1="482.00" y1="159.50" x2="485.40" y2="159.50" stroke="#141414" stroke-width="1"/>
<line x1="482.00" y1="166.60" x2="485.40" y2="166.60" stroke="#141414" stroke-width="1"/>
<line x1="497.10" y1="160.80" x2="497.10" y2="176.20" stroke="#141414" stroke-width="1"/>
<line x1="495.40" y1="160.80" x2="498.80" y2="160.80" stroke="#141414" stroke-width="1"/>
<line x1="495.40" y1="176.20" x2="498.80" y2="176.20" stroke="#141414" stroke-width="1"/>
<line x1="510.50" y1="164.60" x2="510.50" y2="173.10" stroke="#141414" stroke-width="1"/>
<line x1="508.80" y1="164.60" x2="512.20" y2="164.60" stroke="#141414" stroke-width="1"/>
<line x1="508.80" y1="173.10" x2="512.20" y2="173.10" stroke="#141414" stroke-width="1"/>
<polyline fill="none" stroke="#141414" stroke-width="1.3" points="430.10,204.20 443.50,197.00 456.90,185.60 470.30,164.60 483.70,163.50 497.10,169.20 510.50,169.20"/>
<polygon points="430.10,201.80 427.90,205.90 432.30,205.90" fill="#141414"/>
<polygon points="443.50,194.60 441.30,198.70 445.70,198.70" fill="#141414"/>
<polygon points="456.90,183.20 454.70,187.30 459.10,187.30" fill="#141414"/>
<polygon points="470.30,162.20 468.10,166.30 472.50,166.30" fill="#141414"/>
<polygon points="483.70,161.10 481.50,165.20 485.90,165.20" fill="#141414"/>
<polygon points="497.10,166.80 494.90,170.90 499.30,170.90" fill="#141414"/>
<polygon points="510.50,166.80 508.30,170.90 512.70,170.90" fill="#141414"/>
<polyline fill="none" stroke="#141414" stroke-width="1.2" points="430.10,221.20 443.50,221.00 456.90,220.60 470.30,220.00 483.70,218.90 497.10,218.20 510.50,218.00"/>
<rect x="428.40" y="219.50" width="3.4" height="3.4" fill="#fff" stroke="#141414" stroke-width="0.9"/>
<rect x="441.80" y="219.30" width="3.4" height="3.4" fill="#fff" stroke="#141414" stroke-width="0.9"/>
<rect x="455.20" y="218.90" width="3.4" height="3.4" fill="#fff" stroke="#141414" stroke-width="0.9"/>
<rect x="468.60" y="218.30" width="3.4" height="3.4" fill="#fff" stroke="#141414" stroke-width="0.9"/>
<rect x="482.00" y="217.20" width="3.4" height="3.4" fill="#fff" stroke="#141414" stroke-width="0.9"/>
<rect x="495.40" y="216.50" width="3.4" height="3.4" fill="#fff" stroke="#141414" stroke-width="0.9"/>
<rect x="508.80" y="216.30" width="3.4" height="3.4" fill="#fff" stroke="#141414" stroke-width="0.9"/>
<line x1="443.50" y1="218.60" x2="443.50" y2="220.80" stroke="#141414" stroke-width="1"/>
<line x1="441.80" y1="218.60" x2="445.20" y2="218.60" stroke="#141414" stroke-width="1"/>
<line x1="441.80" y1="220.80" x2="445.20" y2="220.80" stroke="#141414" stroke-width="1"/>
<line x1="456.90" y1="216.60" x2="456.90" y2="219.40" stroke="#141414" stroke-width="1"/>
<line x1="455.20" y1="216.60" x2="458.60" y2="216.60" stroke="#141414" stroke-width="1"/>
<line x1="455.20" y1="219.40" x2="458.60" y2="219.40" stroke="#141414" stroke-width="1"/>
<line x1="470.30" y1="215.20" x2="470.30" y2="217.60" stroke="#141414" stroke-width="1"/>
<line x1="468.60" y1="215.20" x2="472.00" y2="215.20" stroke="#141414" stroke-width="1"/>
<line x1="468.60" y1="217.60" x2="472.00" y2="217.60" stroke="#141414" stroke-width="1"/>
<line x1="483.70" y1="210.20" x2="483.70" y2="213.00" stroke="#141414" stroke-width="1"/>
<line x1="482.00" y1="210.20" x2="485.40" y2="210.20" stroke="#141414" stroke-width="1"/>
<line x1="482.00" y1="213.00" x2="485.40" y2="213.00" stroke="#141414" stroke-width="1"/>
<line x1="497.10" y1="205.50" x2="497.10" y2="218.00" stroke="#141414" stroke-width="1"/>
<line x1="495.40" y1="205.50" x2="498.80" y2="205.50" stroke="#141414" stroke-width="1"/>
<line x1="495.40" y1="218.00" x2="498.80" y2="218.00" stroke="#141414" stroke-width="1"/>
<polyline fill="none" stroke="#141414" stroke-width="1.2" points="430.10,220.90 443.50,219.80 456.90,218.00 470.30,216.40 483.70,211.60 497.10,211.60 510.50,211.80"/>
<circle cx="430.10" cy="220.90" r="1.85" fill="#fff" stroke="#141414" stroke-width="0.9"/>
<circle cx="443.50" cy="219.80" r="1.85" fill="#fff" stroke="#141414" stroke-width="0.9"/>
<circle cx="456.90" cy="218.00" r="1.85" fill="#fff" stroke="#141414" stroke-width="0.9"/>
<circle cx="470.30" cy="216.40" r="1.85" fill="#fff" stroke="#141414" stroke-width="0.9"/>
<circle cx="483.70" cy="211.60" r="1.85" fill="#fff" stroke="#141414" stroke-width="0.9"/>
<circle cx="497.10" cy="211.60" r="1.85" fill="#fff" stroke="#141414" stroke-width="0.9"/>
<circle cx="510.50" cy="211.80" r="1.85" fill="#fff" stroke="#141414" stroke-width="0.9"/>
<circle cx="416.70" cy="221.3" r="2.1" fill="#141414"/>
<line x1="413.00" y1="128.00" x2="423.40" y2="128.00" stroke="#141414" stroke-width="1.2"/>
<circle cx="418.2" cy="128" r="1.5" fill="#fff" stroke="#141414" stroke-width="0.9"/>
<text transform="translate(425.00 130.80)" font-size="7.8" text-anchor="start" font-weight="normal" fill="#141414" stroke="#141414" stroke-width="0.25">LPS</text>
<line x1="469.00" y1="127.80" x2="479.40" y2="127.80" stroke="#141414" stroke-width="1.2"/>
<rect x="472.7" y="126.3" width="3" height="3" fill="#fff" stroke="#141414" stroke-width="0.9"/>
<text transform="translate(480.80 130.80)" font-size="7.9" text-anchor="start" font-weight="normal" fill="#141414" stroke="#141414" stroke-width="0.25">CpG</text>
<line x1="413.00" y1="139.20" x2="423.40" y2="139.20" stroke="#141414" stroke-width="1.2"/>
<polygon points="418.2,136.9 416,140.8 420.4,140.8" fill="#141414"/>
<text transform="translate(425.00 141.80)" font-size="7.8" text-anchor="start" font-weight="normal" fill="#141414" stroke="#141414" stroke-width="0.25">none</text>
<circle cx="473.8" cy="139.2" r="1.9" fill="#141414"/>
<text transform="translate(480.80 141.80)" font-size="7.9" text-anchor="start" font-weight="normal" fill="#141414" stroke="#141414" stroke-width="0.25">only Tcells</text>
</svg>
</body></html>
